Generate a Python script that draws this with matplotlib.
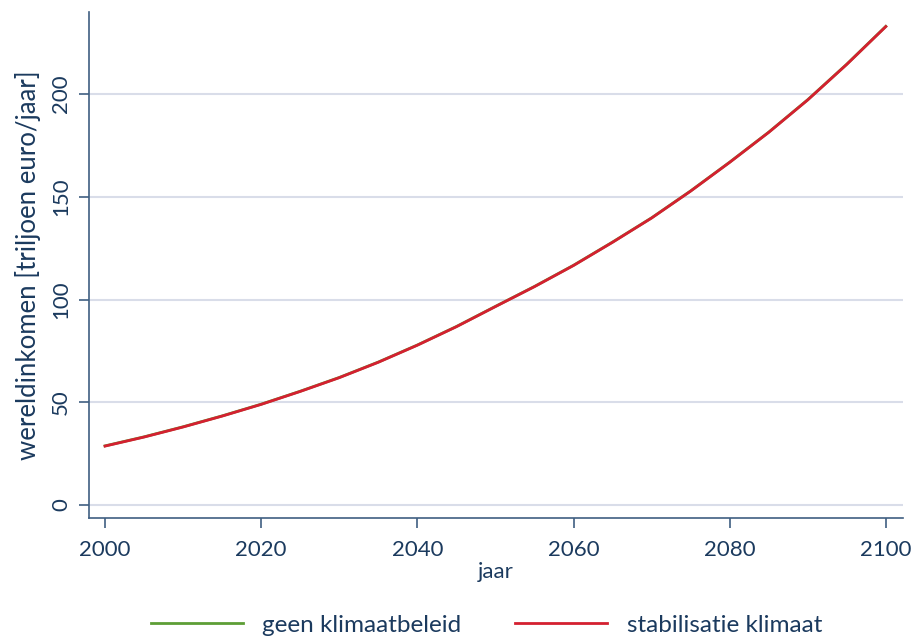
import numpy as np
import matplotlib.pyplot as plt

years = [2000, 2005, 2010, 2015, 2020, 2025, 2030, 2035, 2040, 2045, 2050,
         2055, 2060, 2065, 2070, 2075, 2080, 2085, 2090, 2095, 2100]
geen_klimaatbeleid = [28.8, 33.2, 38.1, 43.4, 49.1, 55.4, 62.1, 69.6, 77.9, 86.9, 96.7,
                      106.4, 116.7, 128.0, 139.8, 152.9, 166.9, 181.5, 197.3, 214.6, 233.0]
stabilisatie_klimaat = [28.7, 33.1, 38.0, 43.3, 49.0, 55.3, 62.0, 69.5, 77.8, 86.8, 96.6,
                        106.3, 116.6, 127.9, 139.7, 152.8, 166.8, 181.4, 197.2, 214.5, 232.9]

yticks = [0, 50, 100, 150, 200]
xticks = [2000, 2020, 2040, 2060, 2080, 2100]

navy = "#1b3a5e"
spine_c = "#3f5f82"
grid_c = "#d9dde9"

plt.rcParams["font.family"] = ["Lato", "DejaVu Sans"]

fig = plt.figure(figsize=(9.16, 6.41), dpi=100)
ax = fig.add_axes([0.0972, 0.1919, 0.8886, 0.7894])

ax.plot(years, geen_klimaatbeleid, color="#5d9e35", lw=2, label="geen klimaatbeleid")
ax.plot(years, stabilisatie_klimaat, color="#d42030", lw=2, label="stabilisatie klimaat")

ax.set_xlim(1997.95, 2102.2)
ax.set_ylim(-6.3, 240)
ax.set_xticks(xticks)
ax.set_yticks(yticks)
ax.set_yticklabels([str(t) for t in yticks], rotation=90, va="center")

for s in ["top", "right"]:
    ax.spines[s].set_visible(False)
for s in ["left", "bottom"]:
    ax.spines[s].set_color(spine_c)
    ax.spines[s].set_linewidth(1.2)

ax.tick_params(colors=spine_c, labelcolor=navy, labelsize=16, length=7, width=1.2)
ax.tick_params(axis="x", pad=9)
ax.tick_params(axis="y", pad=6)
ax.yaxis.grid(True, color=grid_c, lw=1.5)
ax.set_axisbelow(True)

ax.set_xlabel("jaar", color=navy, fontsize=16, labelpad=1)
ax.set_ylabel("wereldinkomen [triljoen euro/jaar]", color=navy, fontsize=18.5, labelpad=7)

fig.legend(loc="lower center", ncol=2, frameon=False, fontsize=17.5,
           handlelength=3.8, columnspacing=2.2, labelcolor=navy,
           bbox_to_anchor=(0.531, -0.026))

fig.savefig("out.png", dpi=100)
